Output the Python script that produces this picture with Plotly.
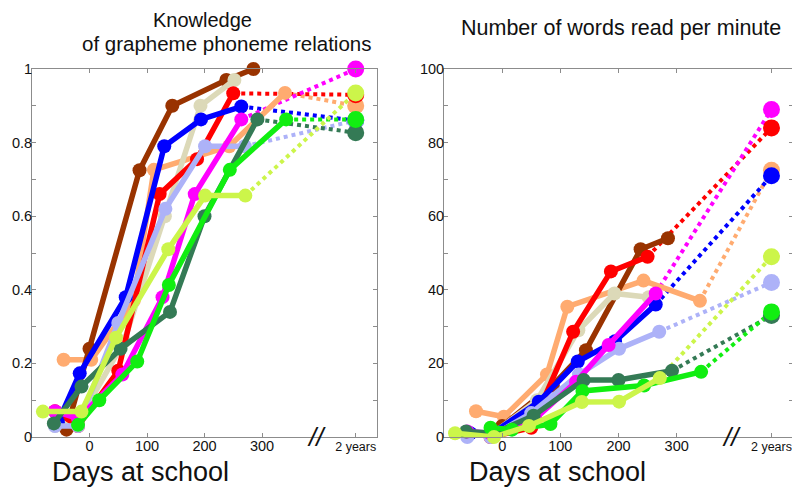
import plotly.graph_objects as go

# ---------------- data ----------------
TWO_YEARS = 463  # x position used for the "2 years" point
x_tick_vals = [0, 100, 200, 300, TWO_YEARS]
x_tick_text = ["0", "100", "200", "300", "<span style='font-size:12.5px'>2 years</span>"]

names = ["orange", "brown", "beige", "red", "blue", "lavender", "magenta", "darkgreen", "green", "yellowgreen"]
colors = {
    "brown": "#993300", "beige": "#dcd9b8", "orange": "#ffab70", "red": "#ff0000",
    "blue": "#0000ff", "lavender": "#adb2f8", "magenta": "#ff00ff",
    "darkgreen": "#347a55", "green": "#11ee11", "yellowgreen": "#ccf54a",
}

days_brown = [-40, 0, 87, 144, 238, 285]
gp_brown = [0.02, 0.24, 0.725, 0.90, 0.97, 1.0]
wpm_brown = [-1, 3, 14, 23.6, 51, 54]

days_beige = [-60, -20, 60, 131, 193, 252]
gp_beige = [0.03, 0.04, 0.26, 0.60, 0.90, 0.97]
wpm_beige = [1, 0.5, 10, 29, 39, 38]

days_orange = [-45, 3, 77, 112, 243, 340]
gp_orange = [0.21, 0.21, 0.37, 0.726, 0.79, 0.935]
wpm_orange = [7, 5.5, 17, 35.4, 42.5, 37]

days_red = [-60, -20, 50, 122, 187, 250]
gp_red = [0.07, 0.03, 0.18, 0.66, 0.755, 0.934]
wpm_red = [0.5, 0, 2.5, 28.6, 45, 49]

days_blue = [-55, -17, 63, 130, 194, 264]
gp_blue = [0.04, 0.173, 0.38, 0.79, 0.863, 0.898]
wpm_blue = [1, 1, 9.6, 20.5, 26, 36]

days_lavender = [-60, -20, 50, 132, 201, 270]
gp_lavender = [0.03, 0.03, 0.31, 0.62, 0.79, 0.79]
wpm_lavender = [0, 0, 6.5, 17, 24, 28.6]

days_magenta = [-60, -20, 57, 127, 183, 264]
gp_magenta = [0.07, 0.05, 0.17, 0.38, 0.66, 0.863]
wpm_magenta = [1.5, 1, 5, 15, 25, 39]

days_darkgreen = [-62, -14, 54, 140, 200, 292]
gp_darkgreen = [0.037, 0.137, 0.24, 0.34, 0.60, 0.863]
wpm_darkgreen = [1.5, 1, 5.8, 15.5, 15.5, 18]

days_green = [-20, 17, 83, 138, 244, 342]
gp_green = [0.033, 0.10, 0.205, 0.413, 0.726, 0.863]
wpm_green = [2.5, 2, 3.5, 12.5, 14, 17.7]

days_yellowgreen = [-81, -14, 46, 137, 201, 271]
gp_yellowgreen = [0.069, 0.069, 0.27, 0.51, 0.656, 0.656]
wpm_yellowgreen = [1, 0, 3, 9.5, 9.6, 16]

# values after two years (None = not measured)
gp_2y = {"brown": None, "beige": None, "orange": 0.90, "red": 0.93, "blue": 0.86,
         "lavender": 0.86, "magenta": 1.0, "darkgreen": 0.827, "green": 0.863, "yellowgreen": 0.935}
wpm_2y = {"brown": None, "beige": None, "orange": 72.5, "red": 84, "blue": 71,
          "lavender": 42, "magenta": 89, "darkgreen": 33, "green": 34, "yellowgreen": 49}

series = {
    "brown": (days_brown, gp_brown, wpm_brown),
    "beige": (days_beige, gp_beige, wpm_beige),
    "orange": (days_orange, gp_orange, wpm_orange),
    "red": (days_red, gp_red, wpm_red),
    "blue": (days_blue, gp_blue, wpm_blue),
    "lavender": (days_lavender, gp_lavender, wpm_lavender),
    "magenta": (days_magenta, gp_magenta, wpm_magenta),
    "darkgreen": (days_darkgreen, gp_darkgreen, wpm_darkgreen),
    "green": (days_green, gp_green, wpm_green),
    "yellowgreen": (days_yellowgreen, gp_yellowgreen, wpm_yellowgreen),
}

# ---------------- figure ----------------
fig = go.Figure()
FONT = "Liberation Sans, Arial, sans-serif"
W, H = 800, 488
OFF = 8  # page body margin in the browser


def fx(px):
    return (px - OFF) / W


def fy(py):
    return 1 - (py - OFF) / H


for panel, (xa, ya, two) in enumerate([("x", "y", gp_2y), ("x2", "y2", wpm_2y)]):
    for n in names:
        d, gp, wp = series[n]
        vals = gp if panel == 0 else wp
        v2 = two[n]
        if v2 is not None:
            fig.add_trace(go.Scatter(
                x=[d[-1], TWO_YEARS], y=[vals[-1], v2], xaxis=xa, yaxis=ya,
                mode="lines", line=dict(color=colors[n], width=4, dash="dot"),
                showlegend=False, hoverinfo="skip", cliponaxis=False))
    for n in names:
        d, gp, wp = series[n]
        vals = gp if panel == 0 else wp
        fig.add_trace(go.Scatter(
            x=d, y=vals, xaxis=xa, yaxis=ya, mode="lines+markers",
            line=dict(color=colors[n], width=5.5),
            marker=dict(color=colors[n], size=14),
            showlegend=False, cliponaxis=False))
    for n in names:
        v2 = two[n]
        if v2 is not None:
            fig.add_trace(go.Scatter(
                x=[TWO_YEARS], y=[v2], xaxis=xa, yaxis=ya, mode="markers",
                marker=dict(color=colors[n], size=17),
                showlegend=False, cliponaxis=False))

axis_common = dict(showline=True, linecolor="#8c8c8c", linewidth=1, mirror="ticks",
                   ticks="inside", ticklen=4, tickcolor="#8c8c8c", showgrid=False,
                   zeroline=False, automargin=False, ticklabelstandoff=-4,
                   tickfont=dict(family=FONT, size=14.5, color="#111"))

x_common = dict(axis_common, range=[-100, 500], tickvals=x_tick_vals, ticktext=x_tick_text)

fig.update_layout(
    template="none",
    width=W, height=H, autosize=False,
    margin=dict(l=0, r=0, t=0, b=0, pad=0, autoexpand=False),
    paper_bgcolor="white", plot_bgcolor="white",
    font=dict(family=FONT, color="#111"),
    xaxis=dict(x_common, domain=[fx(32), fx(377)], anchor="y"),
    yaxis=dict(axis_common, domain=[fy(437), fy(69)], range=[0, 1], anchor="x",
               tickvals=[0, 0.2, 0.4, 0.6, 0.8, 1], ticktext=["0", "0.2", "0.4", "0.6", "0.8", "1"],
               minor=dict(dtick=0.1, ticks="inside", ticklen=4, tickcolor="#8c8c8c")),
    xaxis2=dict(x_common, domain=[fx(444), fx(793)], anchor="y2"),
    yaxis2=dict(axis_common, domain=[fy(437), fy(69)], range=[0, 100], anchor="x2",
                tickvals=[0, 20, 40, 60, 80, 100],
                minor=dict(dtick=10, ticks="inside", ticklen=4, tickcolor="#8c8c8c")),
)

annots = [
    dict(text="Knowledge", x=202, y=20, size=20),
    dict(text="of grapheme phoneme relations", x=226, y=43, size=20.5),
    dict(text="Number of words read per minute", x=621, y=28, size=21.5),
    dict(text="Days at school", x=140, y=472, size=27),
    dict(text="Days at school", x=557, y=472, size=27),
]
for a in annots:
    fig.add_annotation(text=a["text"], x=fx(a["x"]), y=fy(a["y"]), xref="paper", yref="paper",
                       xanchor="center", yanchor="middle", showarrow=False,
                       font=dict(family=FONT, size=a["size"], color="#111"))

for xr, yr in [("x", "y"), ("x2", "y2")]:
    fig.add_annotation(text="<i>//</i>", x=395, y=0, xref=xr, yref=yr,
                       xanchor="center", yanchor="middle", showarrow=False,
                       font=dict(family=FONT, size=26, color="#111"))

fig.write_html("out.html")
